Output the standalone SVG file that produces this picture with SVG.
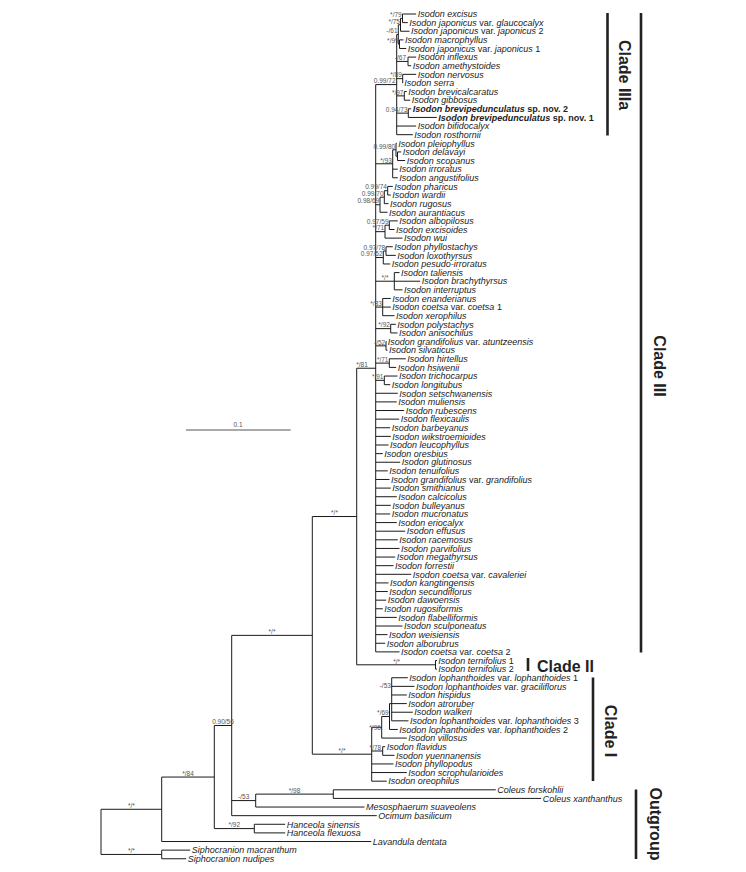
<svg xmlns="http://www.w3.org/2000/svg" width="746" height="872" viewBox="0 0 746 872">
<style>
.br{fill:none;stroke:#1a1a1a;stroke-width:1}
.t{font-family:"Liberation Sans",Arial,sans-serif;font-size:9px;font-style:italic;fill:#222}
.b{font-weight:bold}
.u{font-style:normal}
.s{font-family:"Liberation Sans",Arial,sans-serif;font-size:6.5px;fill:#555;text-anchor:end}
.c{text-anchor:middle}
.bar{fill:none;stroke:#222;stroke-width:2.6}
.cl{font-family:"Liberation Sans",Arial,sans-serif;font-size:16px;font-weight:bold;fill:#222}
</style>
<rect width="746" height="872" fill="#fff"/>
<g id="connectors">
<path class="br" d="M396.7,34.47V134.68M375.7,84.58H396.7M398.3,24.78V44.17M396.7,34.47H398.3M400.5,18.31V31.24M398.3,24.78H400.5M402.5,14V22.62M400.5,18.31H402.5M402.5,14H416.2M402.5,22.62H407.8M400.5,31.24H409.5M399.5,39.86V48.48M398.3,44.17H399.5M399.5,39.86H403.5M399.5,48.48H406.2M408,57.1V65.72M396.7,61.41H408M408,57.1H416.2M408,65.72H411.2M402.7,74.34V82.96M396.7,78.65H402.7M402.7,74.34H416.2M402.7,82.96H403M404.3,91.58V100.2M396.7,95.89H404.3M404.3,91.58H406.8M404.3,100.2H410.2M408.3,108.82V117.44M396.7,113.13H408.3M408.3,108.82H411.2M408.3,117.44H436.8M396.7,126.06H416.2M396.7,134.68H412.8"/>
<path class="br" d="M375.7,84.58V651.88M356.7,368.23H375.7M392.7,149.77V177.78M375.7,163.78H392.7M396,143.3V156.23M392.7,149.77H396M396,143.3H396.8M397.5,151.92V160.54M396,156.23H397.5M397.5,151.92H401.2M397.5,160.54H405.2M392.7,169.16H397.8M392.7,177.78H397.8M380,197.18V212.26M375.7,204.72H380M384.3,190.71V203.64M380,197.18H384.3M387.7,186.4V195.02M384.3,190.71H387.7M387.7,186.4H392.8M387.7,195.02H390.8M384.3,203.64H388.5M380,212.26H387.5M385,225.19V238.12M375.7,231.66H385M389.3,220.88V229.5M385,225.19H389.3M389.3,220.88H397.8M389.3,229.5H394.5M385,238.12H402.5M383.3,251.05V263.98M375.7,257.52H383.3M386,246.74V255.36M383.3,251.05H386M386,246.74H392.8M386,255.36H395.8M383.3,263.98H390.2M394.3,272.6V289.84M375.7,281.22H394.3M394.3,272.6H399.5M394.3,281.22H420.2M394.3,289.84H402.5M382.7,298.46V315.7M375.7,307.08H382.7M382.7,298.46H390.8M382.7,307.08H390.8M382.7,315.7H394.5M390.7,324.32V332.94M375.7,328.63H390.7M390.7,324.32H395.8M390.7,332.94H397.5M386,341.56V350.18M375.7,345.87H386M386,341.56H386.4M386,350.18H387.5M389.3,358.8V367.42M375.7,363.11H389.3M389.3,358.8H405.8M389.3,367.42H396.2M384.3,376.04V384.66M375.7,380.35H384.3M384.3,376.04H397.5M384.3,384.66H390.2"/>
<path class="br" d="M375.7,393.28H397.8M375.7,401.9H396.8M375.7,410.52H404.2M375.7,419.14H399.2M375.7,427.76H390.2M375.7,436.38H390.8M375.7,445H388.5M375.7,453.62H382.8M375.7,462.24H400.2M375.7,470.86H387.8M375.7,479.48H389.5M375.7,488.1H390.8M375.7,496.72H396.8M375.7,505.34H390.8M375.7,513.96H390.2M375.7,522.58H396.8M375.7,531.2H405.2M375.7,539.82H397.8M375.7,548.44H399.5M375.7,557.06H395.2M375.7,565.68H393.5M375.7,574.3H411.2M375.7,582.92H388.5M375.7,591.54H387.8M375.7,600.16H386.2M375.7,608.78H382.8M375.7,617.4H396.8M375.7,626.02H402.5M375.7,634.64H387.5M375.7,643.26H385.2M375.7,651.88H399.5"/>
<path class="br" d="M356.7,368.23V664.81M312.3,516.52H356.7M435.5,660.5V669.12M356.7,664.81H435.5M435.5,660.5H437M435.5,669.12H437M312.3,516.52V754.2M231.7,635.36H312.3M371.7,727.3V781.18M312.3,754.2H371.7M381.7,716.5V738.08M371.7,727.3H381.7M389.5,703.6V729.46M381.7,716.5H389.5M391.7,677.74V720.84M389.5,703.6H391.7M391.7,677.74H407.8M391.7,686.36H414.5M391.7,694.98H406.8M391.7,703.6H406.8M391.7,712.22H412.8M391.7,720.84H408.5M389.5,729.46H397.8M381.7,738.08H406.8M382.7,746.7V755.32M371.7,751.01H382.7M382.7,746.7H385.2M382.7,755.32H394.5M371.7,763.94H393.5M371.7,772.56H406.8M371.7,781.18H386.8"/>
<path class="br" d="M231.7,635.36V815.66M214.3,725.51H231.7M255.7,794.11V807.04M231.7,800.58H255.7M333.3,789.8V798.42M255.7,794.11H333.3M333.3,789.8H495.8M333.3,798.42H541.2M255.7,807.04H364.5M231.7,815.66H376.8M214.3,725.51V828.59M161.7,777.05H214.3M254.3,824.28V832.9M214.3,828.59H254.3M254.3,824.28H285.2M254.3,832.9H285.2M161.7,777.05V841.52M101,809.29H161.7M161.7,841.52H371.2M161.7,850.14V858.76M101,854.45H161.7M161.7,850.14H190.2M161.7,858.76H186.2M101,809.29V854.45"/>
</g>
<g id="scale">
<path d="M186,430H290.7" fill="none" stroke="#555" stroke-width="1"/>
<text class="s c" x="238" y="427">0.1</text>
</g>
<g id="supports">
<text class="s" x="401.7" y="17">*/79</text>
<text class="s" x="400" y="23.5">*/75</text>
<text class="s" x="397.5" y="32.8">-/61</text>
<text class="s" x="398.7" y="42.5">*/99</text>
<text class="s" x="406" y="60">-/67</text>
<text class="s" x="401.9" y="77.3">*/89</text>
<text class="s" x="395.5" y="83.3">0.99/72</text>
<text class="s" x="403.5" y="94.6">*/97</text>
<text class="s" x="407.5" y="111.8">0.94/73</text>
<text class="s" x="395.2" y="148.5">0.99/80</text>
<text class="s" x="391.9" y="162.5">*/93</text>
<text class="s" x="386.9" y="189.4">0.99/74</text>
<text class="s" x="383.5" y="195.9">0.99/70</text>
<text class="s" x="379.2" y="203.4">0.98/69</text>
<text class="s" x="388.5" y="223.9">0.97/59</text>
<text class="s" x="384.2" y="230.4">*/71</text>
<text class="s" x="385.2" y="249.8">0.97/78</text>
<text class="s" x="382.5" y="256.2">0.97/52</text>
<text class="s c" x="385" y="279.9">*/*</text>
<text class="s" x="381.9" y="305.8">*/83</text>
<text class="s" x="389.9" y="327.3">*/92</text>
<text class="s" x="385.2" y="344.6">-/52</text>
<text class="s" x="388.5" y="361.8">*/71</text>
<text class="s" x="383.5" y="379">*/91</text>
<text class="s c" x="362" y="366.9">*/81</text>
<text class="s c" x="334.5" y="515.2">*/*</text>
<text class="s c" x="396.7" y="663.5">*/*</text>
<text class="s c" x="272" y="634">*/*</text>
<text class="s c" x="342" y="752.9">*/*</text>
<text class="s" x="390.9" y="687.5">-/53</text>
<text class="s" x="388.7" y="714.5">*/69</text>
<text class="s" x="380.9" y="730">*/96</text>
<text class="s" x="381.2" y="750">*/78</text>
<text class="s c" x="294.5" y="792.8">*/98</text>
<text class="s c" x="243.7" y="799.3">-/53</text>
<text class="s c" x="234.3" y="827.3">*/92</text>
<text class="s c" x="223" y="724.2">0.90/56</text>
<text class="s c" x="188" y="775.7">*/84</text>
<text class="s c" x="131.4" y="808">*/*</text>
<text class="s c" x="131.4" y="853.2">*/*</text>
</g>
<g id="n1"><text class="t" x="417.7" y="17.2">Isodon excisus</text></g>
<g id="n2"><text class="t" x="409.3" y="25.8">Isodon japonicus <tspan class="u">var.</tspan> glaucocalyx</text></g>
<g id="n3"><text class="t" x="411" y="34.4">Isodon japonicus <tspan class="u">var.</tspan> japonicus <tspan class="u">2</tspan></text></g>
<g id="n4"><text class="t" x="405" y="43.1">Isodon macrophyllus</text></g>
<g id="n5"><text class="t" x="407.7" y="51.7">Isodon japonicus <tspan class="u">var.</tspan> japonicus <tspan class="u">1</tspan></text></g>
<g id="n6"><text class="t" x="417.7" y="60.3">Isodon inflexus</text></g>
<g id="n7"><text class="t" x="412.7" y="68.9">Isodon amethystoides</text></g>
<g id="n8"><text class="t" x="417.7" y="77.5">Isodon nervosus</text></g>
<g id="n9"><text class="t" x="404.3" y="86.2">Isodon serra</text></g>
<g id="n10"><text class="t" x="408.3" y="94.8">Isodon brevicalcaratus</text></g>
<g id="n11"><text class="t" x="411.7" y="103.4">Isodon gibbosus</text></g>
<g id="n12"><text class="t b" x="412.7" y="112">Isodon brevipedunculatus <tspan class="u">sp. nov. 2</tspan></text></g>
<g id="n13"><text class="t b" x="438.3" y="120.6">Isodon brevipedunculatus <tspan class="u">sp. nov. 1</tspan></text></g>
<g id="n14"><text class="t" x="417.7" y="129.3">Isodon bifidocalyx</text></g>
<g id="n15"><text class="t" x="414.3" y="137.9">Isodon rosthornii</text></g>
<g id="n16"><text class="t" x="398.3" y="146.5">Isodon pleiophyllus</text></g>
<g id="n17"><text class="t" x="402.7" y="155.1">Isodon delavayi</text></g>
<g id="n18"><text class="t" x="406.7" y="163.7">Isodon scopanus</text></g>
<g id="n19"><text class="t" x="399.3" y="172.4">Isodon irroratus</text></g>
<g id="n20"><text class="t" x="399.3" y="181">Isodon angustifolius</text></g>
<g id="n21"><text class="t" x="394.3" y="189.6">Isodon pharicus</text></g>
<g id="n22"><text class="t" x="392.3" y="198.2">Isodon wardii</text></g>
<g id="n23"><text class="t" x="390" y="206.8">Isodon rugosus</text></g>
<g id="n24"><text class="t" x="389" y="215.5">Isodon aurantiacus</text></g>
<g id="n25"><text class="t" x="399.3" y="224.1">Isodon albopilosus</text></g>
<g id="n26"><text class="t" x="396" y="232.7">Isodon excisoides</text></g>
<g id="n27"><text class="t" x="404" y="241.3">Isodon wui</text></g>
<g id="n28"><text class="t" x="394.3" y="249.9">Isodon phyllostachys</text></g>
<g id="n29"><text class="t" x="397.3" y="258.6">Isodon loxothyrsus</text></g>
<g id="n30"><text class="t" x="391.7" y="267.2">Isodon pesudo-irroratus</text></g>
<g id="n31"><text class="t" x="401" y="275.8">Isodon taliensis</text></g>
<g id="n32"><text class="t" x="421.7" y="284.4">Isodon brachythyrsus</text></g>
<g id="n33"><text class="t" x="404" y="293">Isodon interruptus</text></g>
<g id="n34"><text class="t" x="392.3" y="301.7">Isodon enanderianus</text></g>
<g id="n35"><text class="t" x="392.3" y="310.3">Isodon coetsa <tspan class="u">var.</tspan> coetsa <tspan class="u">1</tspan></text></g>
<g id="n36"><text class="t" x="396" y="318.9">Isodon xerophilus</text></g>
<g id="n37"><text class="t" x="397.3" y="327.5">Isodon polystachys</text></g>
<g id="n38"><text class="t" x="399" y="336.1">Isodon anisochilus</text></g>
<g id="n39"><text class="t" x="387.7" y="344.8">Isodon grandifolius <tspan class="u">var.</tspan> atuntzeensis</text></g>
<g id="n40"><text class="t" x="389" y="353.4">Isodon silvaticus</text></g>
<g id="n41"><text class="t" x="407.3" y="362">Isodon hirtellus</text></g>
<g id="n42"><text class="t" x="397.7" y="370.6">Isodon hsiwenii</text></g>
<g id="n43"><text class="t" x="399" y="379.2">Isodon trichocarpus</text></g>
<g id="n44"><text class="t" x="391.7" y="387.9">Isodon longitubus</text></g>
<g id="n45"><text class="t" x="399.3" y="396.5">Isodon setschwanensis</text></g>
<g id="n46"><text class="t" x="398.3" y="405.1">Isodon muliensis</text></g>
<g id="n47"><text class="t" x="405.7" y="413.7">Isodon rubescens</text></g>
<g id="n48"><text class="t" x="400.7" y="422.3">Isodon flexicaulis</text></g>
<g id="n49"><text class="t" x="391.7" y="431">Isodon barbeyanus</text></g>
<g id="n50"><text class="t" x="392.3" y="439.6">Isodon wikstroemioides</text></g>
<g id="n51"><text class="t" x="390" y="448.2">Isodon leucophyllus</text></g>
<g id="n52"><text class="t" x="384.3" y="456.8">Isodon oresbius</text></g>
<g id="n53"><text class="t" x="401.7" y="465.4">Isodon glutinosus</text></g>
<g id="n54"><text class="t" x="389.3" y="474.1">Isodon tenuifolius</text></g>
<g id="n55"><text class="t" x="391" y="482.7">Isodon grandifolius <tspan class="u">var.</tspan> grandifolius</text></g>
<g id="n56"><text class="t" x="392.3" y="491.3">Isodon smithianus</text></g>
<g id="n57"><text class="t" x="398.3" y="499.9">Isodon calcicolus</text></g>
<g id="n58"><text class="t" x="392.3" y="508.5">Isodon bulleyanus</text></g>
<g id="n59"><text class="t" x="391.7" y="517.2">Isodon mucronatus</text></g>
<g id="n60"><text class="t" x="398.3" y="525.8">Isodon eriocalyx</text></g>
<g id="n61"><text class="t" x="406.7" y="534.4">Isodon effusus</text></g>
<g id="n62"><text class="t" x="399.3" y="543">Isodon racemosus</text></g>
<g id="n63"><text class="t" x="401" y="551.6">Isodon parvifolius</text></g>
<g id="n64"><text class="t" x="396.7" y="560.3">Isodon megathyrsus</text></g>
<g id="n65"><text class="t" x="395" y="568.9">Isodon forrestii</text></g>
<g id="n66"><text class="t" x="412.7" y="577.5">Isodon coetsa <tspan class="u">var.</tspan> cavaleriei</text></g>
<g id="n67"><text class="t" x="390" y="586.1">Isodon kangtingensis</text></g>
<g id="n68"><text class="t" x="389.3" y="594.7">Isodon secundiflorus</text></g>
<g id="n69"><text class="t" x="387.7" y="603.4">Isodon dawoensis</text></g>
<g id="n70"><text class="t" x="384.3" y="612">Isodon rugosiformis</text></g>
<g id="n71"><text class="t" x="398.3" y="620.6">Isodon flabelliformis</text></g>
<g id="n72"><text class="t" x="404" y="629.2">Isodon sculponeatus</text></g>
<g id="n73"><text class="t" x="389" y="637.8">Isodon weisiensis</text></g>
<g id="n74"><text class="t" x="386.7" y="646.5">Isodon alborubrus</text></g>
<g id="n75"><text class="t" x="401" y="655.1">Isodon coetsa <tspan class="u">var.</tspan> coetsa <tspan class="u">2</tspan></text></g>
<g id="n76"><text class="t" x="438.3" y="663.7">Isodon ternifolius <tspan class="u">1</tspan></text></g>
<g id="n77"><text class="t" x="438.3" y="672.3">Isodon ternifolius <tspan class="u">2</tspan></text></g>
<g id="n78"><text class="t" x="409.3" y="680.9">Isodon lophanthoides <tspan class="u">var.</tspan> lophanthoides <tspan class="u">1</tspan></text></g>
<g id="n79"><text class="t" x="416" y="689.6">Isodon lophanthoides <tspan class="u">var.</tspan> graciliflorus</text></g>
<g id="n80"><text class="t" x="408.3" y="698.2">Isodon hispidus</text></g>
<g id="n81"><text class="t" x="408.3" y="706.8">Isodon atroruber</text></g>
<g id="n82"><text class="t" x="414.3" y="715.4">Isodon walkeri</text></g>
<g id="n83"><text class="t" x="410" y="724">Isodon lophanthoides <tspan class="u">var.</tspan> lophanthoides <tspan class="u">3</tspan></text></g>
<g id="n84"><text class="t" x="399.3" y="732.7">Isodon lophanthoides <tspan class="u">var.</tspan> lophanthoides <tspan class="u">2</tspan></text></g>
<g id="n85"><text class="t" x="408.3" y="741.3">Isodon villosus</text></g>
<g id="n86"><text class="t" x="386.7" y="749.9">Isodon flavidus</text></g>
<g id="n87"><text class="t" x="396" y="758.5">Isodon yuennanensis</text></g>
<g id="n88"><text class="t" x="395" y="767.1">Isodon phyllopodus</text></g>
<g id="n89"><text class="t" x="408.3" y="775.8">Isodon scrophularioides</text></g>
<g id="n90"><text class="t" x="388.3" y="784.4">Isodon oreophilus</text></g>
<g id="n91"><text class="t" x="497.3" y="793">Coleus forskohlii</text></g>
<g id="n92"><text class="t" x="542.7" y="801.6">Coleus xanthanthus</text></g>
<g id="n93"><text class="t" x="366" y="810.2">Mesosphaerum suaveolens</text></g>
<g id="n94"><text class="t" x="378.3" y="818.9">Ocimum basilicum</text></g>
<g id="n95"><text class="t" x="286.7" y="827.5">Hanceola sinensis</text></g>
<g id="n96"><text class="t" x="286.7" y="836.1">Hanceola flexuosa</text></g>
<g id="n97"><text class="t" x="372.7" y="844.7">Lavandula dentata</text></g>
<g id="n98"><text class="t" x="191.7" y="853.3">Siphocranion macranthum</text></g>
<g id="n99"><text class="t" x="187.7" y="862">Siphocranion nudipes</text></g>
<g id="clade-IIIa"><path class="bar" d="M607.5,13V135.5"/><text class="cl c" dominant-baseline="central" transform="translate(624,75) rotate(90)">Clade IIIa</text></g>
<g id="clade-III"><path class="bar" d="M641,13V652.5"/><text class="cl c" dominant-baseline="central" transform="translate(659,366) rotate(90)">Clade III</text></g>
<g id="clade-II"><path class="bar" d="M528,658V671"/><text class="cl" x="537" y="671.5">Clade II</text></g>
<g id="clade-I"><path class="bar" d="M593,677.5V781"/><text class="cl c" dominant-baseline="central" transform="translate(610,731) rotate(90)">Clade I</text></g>
<g id="outgroup"><path class="bar" d="M636,789.5V859"/><text class="cl c" dominant-baseline="central" transform="translate(655,824) rotate(90)">Outgroup</text></g>
</svg>
